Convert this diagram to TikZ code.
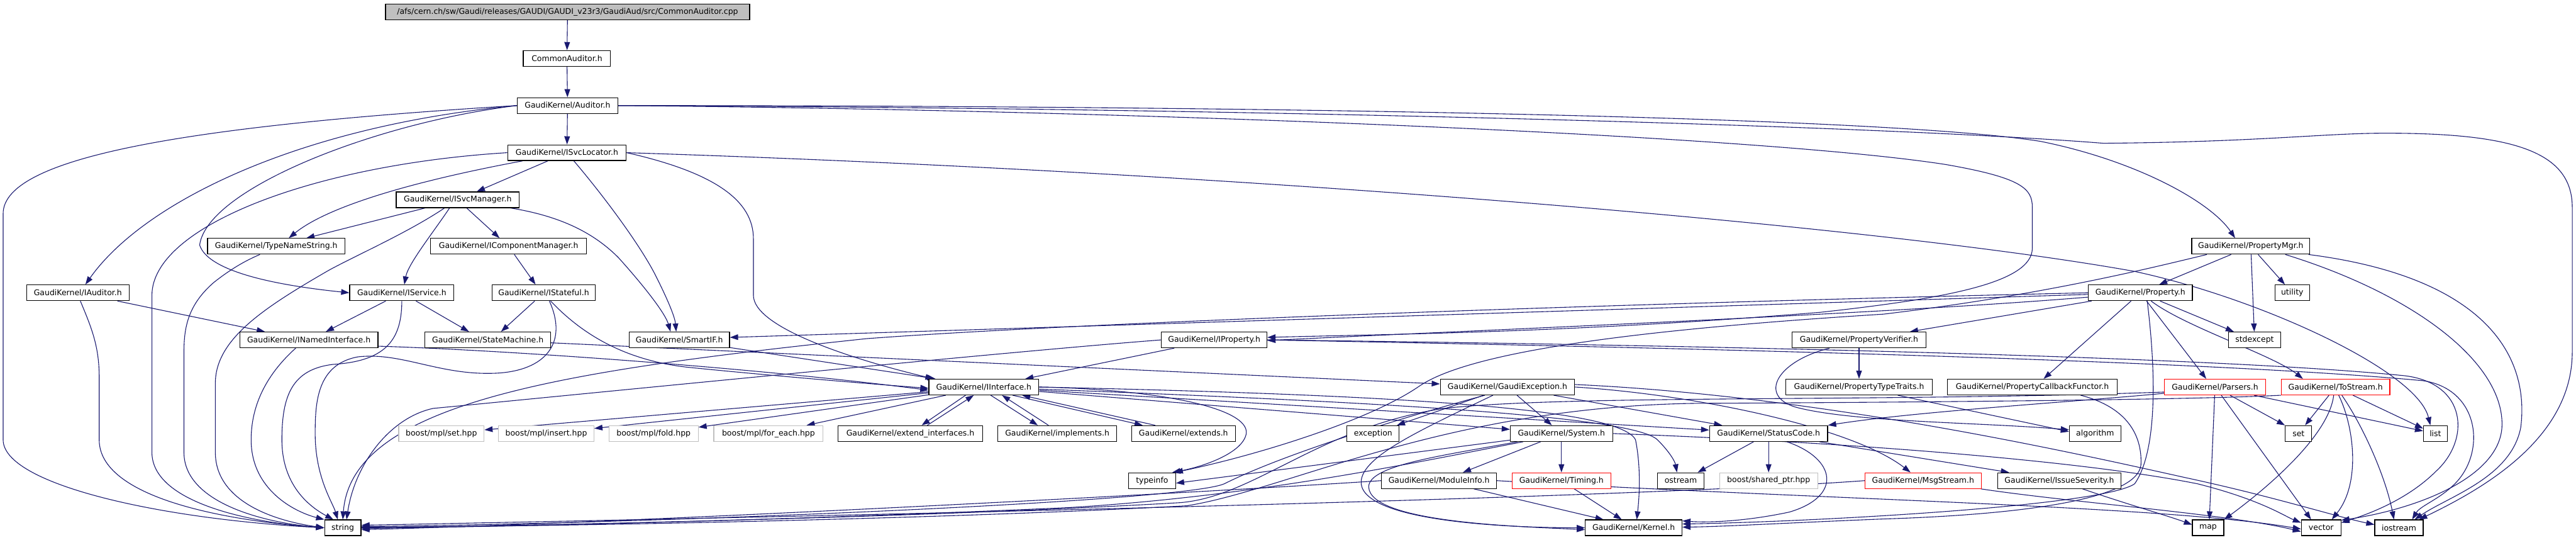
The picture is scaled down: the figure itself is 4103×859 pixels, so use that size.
\documentclass[tikz,border=0pt]{standalone}
\usepackage{fontspec}
\setmainfont{DejaVu Sans}
\usetikzlibrary{arrows.meta}
\definecolor{edgeblue}{HTML}{191970}
\definecolor{rootfill}{HTML}{BFBFBF}
\definecolor{graybd}{HTML}{BFBFBF}
\definecolor{redbd}{HTML}{FF0000}
\pgfdeclarelayer{bg}
\pgfsetlayers{bg,main}
\begin{document}
\begin{tikzpicture}[x=1pt,y=-1pt,
  nbox/.style={draw=black,line width=1.2pt,fill=white,minimum height=25pt,inner sep=0pt,font=\fontsize{12.5pt}{15pt}\selectfont},
  rootn/.style={nbox,fill=rootfill},
  redn/.style={nbox,draw=redbd},
  grayn/.style={nbox,draw=graybd},
  dep/.style={draw=edgeblue,line width=1.1pt,-{Triangle[length=13pt,width=9pt]}}]
\useasboundingbox (0,0) rectangle (4103,859);
% ---------------- nodes ----------------
\node[rootn,minimum width=580pt] (root) at (904,19) {/afs/cern.ch/sw/Gaudi/releases/GAUDI/GAUDI\_v23r3/GaudiAud/src/CommonAuditor.cpp};
\node[nbox,minimum width=139pt] (CA) at (903,93) {CommonAuditor.h};
\node[nbox,minimum width=160pt] (Aud) at (904,168) {GaudiKernel/Auditor.h};
\node[nbox,minimum width=189pt] (ISL) at (903,243) {GaudiKernel/ISvcLocator.h};
\node[nbox,minimum width=196pt] (ISM) at (729,318) {GaudiKernel/ISvcManager.h};
\node[nbox,minimum width=219pt] (TNS) at (440,392) {GaudiKernel/TypeNameString.h};
\node[nbox,minimum width=248pt] (ICM) at (810,392) {GaudiKernel/IComponentManager.h};
\node[nbox,minimum width=188pt] (PMgr) at (3585,392) {GaudiKernel/PropertyMgr.h};
\node[nbox,minimum width=163pt] (IAud) at (124,466) {GaudiKernel/IAuditor.h};
\node[nbox,minimum width=166pt] (ISvc) at (640,466) {GaudiKernel/IService.h};
\node[nbox,minimum width=165pt] (IStf) at (866,466) {GaudiKernel/IStateful.h};
\node[nbox,minimum width=166pt] (Prop) at (3409,466) {GaudiKernel/Property.h};
\node[nbox,minimum width=55pt] (util) at (3651,466) {utility};
\node[nbox,minimum width=220pt] (INamed) at (492,541) {GaudiKernel/INamedInterface.h};
\node[nbox,minimum width=200pt] (SM) at (777,541) {GaudiKernel/StateMachine.h};
\node[nbox,minimum width=160pt] (SIF) at (1082,541) {GaudiKernel/SmartIF.h};
\node[nbox,minimum width=168pt] (IProp) at (1934,541) {GaudiKernel/IProperty.h};
\node[nbox,minimum width=213pt] (PVer) at (2961,541) {GaudiKernel/PropertyVerifier.h};
\node[nbox,minimum width=83pt] (stdx) at (3591,541) {stdexcept};
\node[nbox,minimum width=175pt] (IInt) at (1567,616) {GaudiKernel/IInterface.h};
\node[nbox,minimum width=214pt] (GExc) at (2401,616) {GaudiKernel/GaudiException.h};
\node[nbox,minimum width=234pt] (PTT) at (2961,616) {GaudiKernel/PropertyTypeTraits.h};
\node[nbox,minimum width=270pt] (PCF) at (3237,616) {GaudiKernel/PropertyCallbackFunctor.h};
\node[redn,minimum width=161pt] (Pars) at (3528,616) {GaudiKernel/Parsers.h};
\node[redn,minimum width=173pt] (ToS) at (3720,616) {GaudiKernel/ToStream.h};
\node[grayn,minimum width=136pt] (mset) at (703,690) {boost/mpl/set.hpp};
\node[grayn,minimum width=152pt] (mins) at (870,690) {boost/mpl/insert.hpp};
\node[grayn,minimum width=142pt] (mfold) at (1041,690) {boost/mpl/fold.hpp};
\node[grayn,minimum width=174pt] (mfe) at (1224,690) {boost/mpl/for\_each.hpp};
\node[nbox,minimum width=230pt] (extif) at (1450,690) {GaudiKernel/extend\_interfaces.h};
\node[nbox,minimum width=189pt] (impl) at (1684,690) {GaudiKernel/implements.h};
\node[nbox,minimum width=165pt] (exts) at (1885,690) {GaudiKernel/extends.h};
\node[nbox,minimum width=83pt] (exc) at (2187,690) {exception};
\node[nbox,minimum width=163pt] (Sys) at (2487,690) {GaudiKernel/System.h};
\node[nbox,minimum width=188pt] (SC) at (2817,690) {GaudiKernel/StatusCode.h};
\node[nbox,minimum width=82pt] (algo) at (3337,690) {algorithm};
\node[nbox,minimum width=42pt] (setn) at (3661,690) {set};
\node[nbox,minimum width=38pt] (listn) at (3879,690) {list};
\node[nbox,minimum width=75pt] (tinfo) at (1835,765) {typeinfo};
\node[nbox,minimum width=183pt] (MInfo) at (2292,765) {GaudiKernel/ModuleInfo.h};
\node[redn,minimum width=157pt] (Timing) at (2487,765) {GaudiKernel/Timing.h};
\node[nbox,minimum width=74pt] (ostr) at (2677,765) {ostream};
\node[grayn,minimum width=156pt] (bsp) at (2817,765) {boost/shared\_ptr.hpp};
\node[redn,minimum width=185pt] (Msg) at (3063,765) {GaudiKernel/MsgStream.h};
\node[nbox,minimum width=197pt] (ISev) at (3280,765) {GaudiKernel/IssueSeverity.h};
\node[nbox,minimum width=58pt] (strn) at (546,840) {string};
\node[nbox,minimum width=154pt] (Kern) at (2602,840) {GaudiKernel/Kernel.h};
\node[nbox,minimum width=50pt] (mapn) at (3517,840) {map};
\node[nbox,minimum width=63pt] (vec) at (3697,840) {vector};
\node[nbox,minimum width=77pt] (iost) at (3821,840) {iostream};
% ---------------- edges ----------------
\begin{pgfonlayer}{bg}
\fill[white] (0,0) rectangle (4103,859);
% top chain
\draw[dep] (root) -- (CA);
\draw[dep] (CA) -- (Aud);
\draw[dep] (Aud) -- (ISL);
\draw[dep] (Aud.west) .. controls (480,200) and (230,320) .. ([xshift=12pt]IAud.north);
\draw[dep] (Aud.west) .. controls (600,195) and (330,300) .. (318,390) .. controls (330,428) and (420,452) .. (ISvc.west);
\draw[dep] (Aud.west) .. controls (300,200) and (5,250) .. (5,340) -- (5,700) .. controls (5,770) and (250,826) .. (strn.west);
\draw[dep] (Aud.east) .. controls (2000,168) and (3000,185) .. (3250,225) .. controls (3400,255) and (3520,320) .. ([xshift=-25pt]PMgr.north);
\draw[dep] (Aud.east) .. controls (2000,172) and (3000,200) .. (3350,228) .. controls (3600,226) and (3700,212) .. (3800,212) .. controls (4000,212) and (4097,240) .. (4097,330) -- (4097,560) .. controls (4097,700) and (3950,780) .. ([xshift=32pt]iost.north);
\draw[dep] (Aud.east) .. controls (1800,175) and (2800,215) .. (3100,262) .. controls (3220,283) and (3237,300) .. (3237,330) -- (3237,395) .. controls (3237,450) and (3100,475) .. (2900,497) .. controls (2500,530) and (2200,532) .. ([yshift=4pt]IProp.east);
% ISvcLocator
\draw[dep] (ISL) -- (ISM);
\draw[dep] (ISL) .. controls (650,290) and (520,330) .. ([xshift=20pt]TNS.north);
\draw[dep] (ISL.west) .. controls (500,262) and (242,360) .. (242,470) -- (242,720) .. controls (242,800) and (400,832) .. (strn.west);
\draw[dep] ([xshift=11pt]ISL.south) .. controls (960,310) and (1020,390) .. (1045,440) .. controls (1065,480) and (1075,505) .. ([xshift=-5pt]SIF.north);
\draw[dep] (ISL.east) .. controls (1140,275) and (1200,320) .. (1200,380) -- (1200,470) .. controls (1200,520) and (1350,570) .. ([xshift=-80pt]IInt.north);
\draw[dep] (ISL.east) .. controls (2000,275) and (3000,360) .. (3400,432) .. controls (3600,475) and (3850,590) .. ([xshift=-8pt]listn.north);
% ISvcManager
\draw[dep] (ISM) -- ([xshift=48pt]TNS.north);
\draw[dep] ([xshift=-21pt]ISM.south) .. controls (650,370) and (570,405) .. (524,430) .. controls (420,490) and (343,540) .. (343,610) -- (343,720) .. controls (343,795) and (430,828) .. (strn.west);
\draw[dep] ([xshift=-13pt]ISM.south) .. controls (690,370) and (650,420) .. ([xshift=4pt]ISvc.north);
\draw[dep] (ISM) -- (ICM);
\draw[dep] ([xshift=84pt]ISM.south) .. controls (900,345) and (950,375) .. (985,410) .. controls (1030,460) and (1060,500) .. ([xshift=-14pt]SIF.north);
% TypeNameString, IComponentManager
\draw[dep] ([xshift=-26pt]TNS.south) .. controls (390,415) and (365,430) .. (340,450) .. controls (300,485) and (293,520) .. (293,560) -- (293,720) .. controls (293,800) and (420,832) .. (strn.west);
\draw[dep] (ICM) -- ([xshift=-13pt]IStf.north);
% IAuditor
\draw[dep] (IAud) -- ([xshift=-70pt]INamed.north);
\draw[dep] ([xshift=4pt]IAud.south) .. controls (145,520) and (158,550) .. (158,600) -- (158,700) .. controls (158,790) and (350,828) .. (strn.west);
% IService
\draw[dep] (ISvc) -- ([xshift=27pt]INamed.north);
\draw[dep] (ISvc) -- ([xshift=-30pt]SM.north);
\draw[dep] (ISvc.south) .. controls (640,545) and (610,575) .. (530,580) .. controls (465,588) and (449,630) .. (449,700) .. controls (449,770) and (490,805) .. ([xshift=-15pt]strn.north);
% IStateful
\draw[dep] (IStf) -- ([xshift=21pt]SM.north);
\draw[dep] ([xshift=11pt]IStf.south) .. controls (930,535) and (1000,575) .. (1100,585) .. controls (1250,600) and (1400,612) .. ([yshift=-2pt]IInt.west);
\draw[dep] ([xshift=9pt]IStf.south) .. controls (905,545) and (870,590) .. (790,594) .. controls (700,598) and (640,560) .. (570,568) .. controls (505,580) and (502,640) .. (502,690) .. controls (502,760) and (530,800) .. ([xshift=-8pt]strn.north);
% PropertyMgr
\draw[dep] (PMgr) -- ([xshift=30pt]Prop.north);
\draw[dep] ([xshift=-70pt]PMgr.south) .. controls (3420,428) and (3250,470) .. (3000,500) .. controls (2600,525) and (2340,560) .. (2260,615) .. controls (2180,670) and (2000,725) .. ([xshift=-2pt]tinfo.north east);
\draw[dep] (PMgr) -- (stdx);
\draw[dep] (PMgr) -- (util);
\draw[dep] ([xshift=55pt]PMgr.south) .. controls (3850,470) and (3990,580) .. (3985,680) .. controls (3980,760) and (3850,810) .. ([yshift=12pt]vec.east);
\draw[dep] ([xshift=92pt]PMgr.south) .. controls (3950,440) and (4030,560) .. (4015,680) .. controls (4000,760) and (3900,790) .. ([xshift=25pt]iost.north);
% Property
\draw[dep] (Prop) -- ([yshift=4pt]SIF.east);
\draw[dep] (Prop.west) .. controls (2500,485) and (1700,515) .. (1380,539) .. controls (900,590) and (560,640) .. (strn.north);
\draw[dep] (Prop) .. controls (3000,500) and (2300,528) .. ([yshift=-1pt]IProp.east);
\draw[dep] (Prop) -- ([xshift=81pt]PVer.north);
\draw[dep] (Prop) -- ([xshift=18pt]PCF.north);
\draw[dep] (Prop) -- ([xshift=-14pt]Pars.north);
\draw[dep] (Prop) .. controls (3480,520) and (3620,565) .. ([xshift=-52pt]ToS.north);
\draw[dep] (Prop) -- ([xshift=-33pt]stdx.north);
\draw[dep] ([xshift=11pt]Prop.south) .. controls (3435,600) and (3435,720) .. (3400,770) .. controls (3350,805) and (2900,830) .. ([yshift=6pt]Kern.east);
% PropertyCallbackFunctor
\draw[dep] ([xshift=77pt]PCF.south) .. controls (3395,650) and (3412,700) .. (3410,740) .. controls (3405,790) and (3250,818) .. (3000,826) .. controls (2850,832) and (2750,838) .. ([yshift=1pt]Kern.east);
% INamedInterface
\draw[dep] ([yshift=-10pt]INamed.east) .. controls (800,557) and (1200,585) .. ([yshift=-5pt]IInt.west);
\draw[dep] ([xshift=-21pt]INamed.south) .. controls (420,600) and (400,650) .. (400,700) .. controls (400,780) and (470,815) .. (strn.north west);
% StateMachine, SmartIF
\draw[dep] (SM) -- (GExc);
\draw[dep] (SIF) -- ([xshift=-77pt]IInt.north);
% IProperty
\draw[dep] (IProp) -- ([xshift=66pt]IInt.north);
\draw[dep] (IProp.east) .. controls (2600,548) and (3500,565) .. (3830,598) .. controls (3930,610) and (3935,700) .. (3880,750) .. controls (3830,800) and (3760,822) .. ([yshift=8pt]vec.east);
\draw[dep] (IProp.east) .. controls (2600,552) and (3500,572) .. (3860,606) .. controls (3950,620) and (3960,720) .. (3910,770) .. controls (3885,795) and (3855,805) .. ([xshift=21pt]iost.north);
\draw[dep] (IProp.west) .. controls (1600,560) and (900,630) .. (690,650) .. controls (620,665) and (565,740) .. ([xshift=6pt]strn.north);
% PropertyVerifier, PropertyTypeTraits
\draw[dep] (PVer) -- (PTT);
\draw[dep] ([xshift=-47pt]PVer.south) .. controls (2830,575) and (2800,630) .. (2860,648) .. controls (2950,672) and (3150,672) .. ([yshift=6pt]algo.west);
\draw[dep] (PTT) -- ([yshift=3pt]algo.west);
% GaudiException
\draw[dep] (GExc) -- (exc);
\draw[dep] (GExc) -- (Sys);
\draw[dep] (GExc) -- ([xshift=-74pt]SC.north);
\draw[dep] ([xshift=-23pt]GExc.south) .. controls (2250,690) and (2165,730) .. (2168,770) .. controls (2175,830) and (2400,840) .. (Kern.west);
\draw[dep] ([xshift=-36pt]GExc.south) .. controls (2250,660) and (2050,720) .. (1950,770) .. controls (1880,800) and (1000,834) .. ([yshift=2pt]strn.east);
\draw[dep] (GExc.east) .. controls (2700,628) and (2950,680) .. ([xshift=-20pt]Msg.north);
\draw[dep] ([yshift=4pt]GExc.east) .. controls (2900,630) and (3300,720) .. (3480,760) .. controls (3620,790) and (3720,822) .. ([yshift=5pt]iost.west);
% IInterface
\draw[dep] ([xshift=-29pt]IInt.south) -- ([xshift=18pt]extif.north);
\draw[dep] ([xshift=27pt]extif.north) -- ([xshift=-16pt]IInt.south);
\draw[dep] ([xshift=11pt]IInt.south) -- ([xshift=-31pt]impl.north);
\draw[dep] ([xshift=-14pt]impl.north) -- ([xshift=29pt]IInt.south);
\draw[dep] ([xshift=46pt]IInt.south) -- ([xshift=-65pt]exts.north);
\draw[dep] ([xshift=-45pt]exts.north) -- ([xshift=61pt]IInt.south);
\draw[dep] (IInt) -- (mset);
\draw[dep] (IInt) -- (mins);
\draw[dep] (IInt) -- (mfold);
\draw[dep] (IInt) -- (mfe);
\draw[dep] (IInt.east) .. controls (1850,620) and (1990,650) .. (1985,690) .. controls (1980,720) and (1920,742) .. ([xshift=-6pt]tinfo.north east);
\draw[dep] (IInt.east) .. controls (2200,628) and (2580,648) .. (2605,700) .. controls (2615,750) and (2610,800) .. ([xshift=5pt]Kern.north);
\draw[dep] (IInt) -- (SC);
\draw[dep] (IInt) .. controls (2200,640) and (2600,662) .. (2640,700) .. controls (2660,720) and (2668,735) .. ([xshift=-6pt]ostr.north);
\draw[dep] (IInt) -- (Sys);
% System
\draw[dep] (Sys) -- ([xshift=38pt]MInfo.north);
\draw[dep] (Sys) -- (Timing);
\draw[dep] ([xshift=-70pt]Sys.south) .. controls (2300,725) and (2180,740) .. (2180,775) .. controls (2182,832) and (2420,838) .. ([yshift=-3pt]Kern.west);
\draw[dep] ([xshift=-61pt]Sys.south) .. controls (2250,737) and (2000,790) .. (1700,808) .. controls (1200,830) and (800,838) .. ([yshift=-1pt]strn.east);
\draw[dep] (Sys.east) .. controls (2900,702) and (3300,730) .. (3500,770) .. controls (3600,795) and (3640,822) .. ([yshift=8pt]vec.west);
\draw[dep] (Sys) -- ([yshift=-4pt]tinfo.east);
% ModuleInfo, Timing
\draw[dep] (MInfo) -- ([xshift=-48pt]Kern.north);
\draw[dep] (MInfo.west) .. controls (1900,785) and (1000,832) .. ([yshift=-3pt]strn.east);
\draw[dep] (MInfo.east) .. controls (2900,795) and (3450,805) .. ([yshift=-2pt]vec.west);
\draw[dep] (Timing) -- ([xshift=-19pt]Kern.north);
% StatusCode
\draw[dep] (SC) -- (bsp);
\draw[dep] (SC) -- ([xshift=-80pt]ISev.north);
\draw[dep] (SC) -- ([xshift=27pt]ostr.north);
\draw[dep] ([xshift=29pt]SC.south) .. controls (2925,730) and (2935,790) .. (2850,815) .. controls (2780,830) and (2720,832) .. ([yshift=11pt]Kern.east);
% MsgStream, IssueSeverity
\draw[dep] (Msg.west) .. controls (2600,792) and (1500,818) .. ([yshift=4pt]strn.east);
\draw[dep] ([xshift=92pt]Msg.south) .. controls (3300,800) and (3550,818) .. ([yshift=-6pt]vec.west);
\draw[dep] ([xshift=37pt]ISev.south) .. controls (3380,800) and (3450,820) .. ([yshift=5pt]mapn.west);
% Parsers
\draw[dep] ([yshift=-10pt]Pars.west) .. controls (3300,640) and (3050,655) .. (SC.north east);
\draw[dep] ([yshift=-8pt]Pars.west) .. controls (3000,640) and (2500,628) .. (2300,650) .. controls (2100,680) and (2000,790) .. (1880,800) .. controls (1500,822) and (900,836) .. (strn.east);
\draw[dep] (Pars) -- ([xshift=2pt]mapn.north);
\draw[dep] ([xshift=10pt]Pars.south) -- ([xshift=-16pt]vec.north);
\draw[dep] (Pars) -- (setn.north west);
\draw[dep] (Pars) -- ([yshift=4pt]listn.west);
% ToStream
\draw[dep] (ToS) -- (setn);
\draw[dep] (ToS) -- ([yshift=8pt]listn.west);
\draw[dep] ([xshift=-3pt]ToS.south) .. controls (3710,690) and (3620,770) .. (mapn.north east);
\draw[dep] ([xshift=5pt]ToS.south) .. controls (3750,680) and (3760,770) .. ([xshift=17pt]vec.north);
\draw[dep] ([xshift=10pt]ToS.south) .. controls (3765,680) and (3800,760) .. ([xshift=-8pt]iost.north);
\draw[dep] (ToS.south west) .. controls (3500,636) and (3100,640) .. (2700,642) .. controls (2300,648) and (2050,780) .. (1890,805) .. controls (1500,826) and (900,838) .. ([yshift=1pt]strn.east);
\end{pgfonlayer}
\end{tikzpicture}
\end{document}
